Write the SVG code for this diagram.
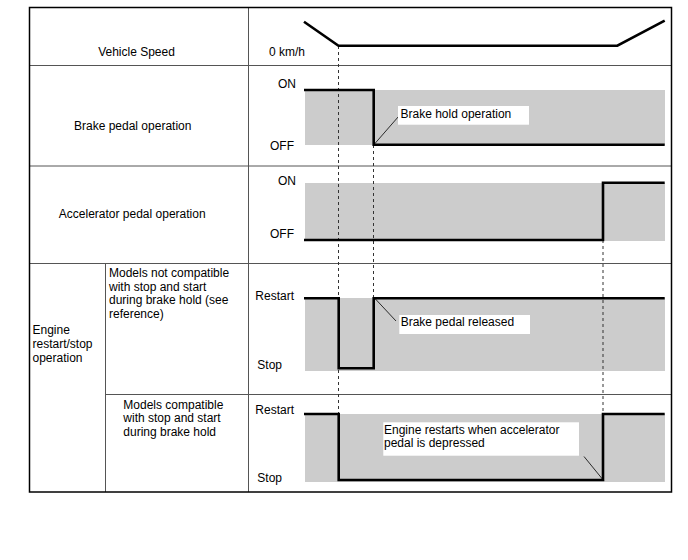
<svg xmlns="http://www.w3.org/2000/svg" width="688" height="560" viewBox="0 0 688 560">
<style>
text{font-family:"Liberation Sans",Arial,sans-serif;font-size:12px;fill:#000}
.grid{stroke:#555;stroke-width:1;fill:none}
.frame{stroke:#000;stroke-width:1.5;fill:none}
.band{fill:#cccccc}
.sig{stroke:#000;stroke-width:2.6;fill:none;stroke-linejoin:miter}
.dash{stroke:#333;stroke-width:1;stroke-dasharray:3,3;fill:none}
.lead{stroke:#000;stroke-width:0.8;fill:none}
.box{fill:#fff}
.mid{text-anchor:middle}
.end{text-anchor:end}
</style>
<rect width="688" height="560" fill="#fff"/>
<g id="table">
<line class="grid" x1="248.5" y1="7.5" x2="248.5" y2="492"/>
<line class="grid" x1="105.5" y1="263.5" x2="105.5" y2="492"/>
<line class="grid" x1="29" y1="65.5" x2="672" y2="65.5"/>
<line class="grid" x1="29" y1="166" x2="672" y2="166"/>
<line class="grid" x1="29" y1="263.5" x2="672" y2="263.5"/>
<line class="grid" x1="105.5" y1="394.5" x2="672" y2="394.5"/>
<rect class="frame" x="29.5" y="7.5" width="642" height="484.5"/>
</g>
<g id="bands">
<rect class="band" x="305" y="90" width="360" height="55"/>
<rect class="band" x="305" y="183" width="360" height="58"/>
<rect class="band" x="305" y="298" width="360" height="73"/>
<rect class="band" x="305" y="414" width="360" height="68"/>
</g>
<g id="connectors">
<line class="dash" x1="338.5" y1="46" x2="338.5" y2="414"/>
<line class="dash" x1="373.5" y1="145" x2="373.5" y2="298"/>
<line class="dash" x1="603" y1="240" x2="603" y2="414"/>
<line class="lead" x1="374.5" y1="144" x2="398.5" y2="116.5"/>
<line class="lead" x1="374.5" y1="298" x2="396" y2="321"/>
<line class="lead" x1="584" y1="456.5" x2="604" y2="481"/>
</g>
<g id="vehicle-speed">
<text class="mid" x="136.5" y="56">Vehicle Speed</text>
<text x="269" y="56">0 km/h</text>
<polyline class="sig" points="304,21.7 338.5,45.7 617.3,45.7 664.7,20.7"/>
</g>
<g id="brake-pedal">
<text class="mid" x="132.7" y="130">Brake pedal operation</text>
<text class="end" x="296" y="88">ON</text>
<text class="end" x="294" y="150">OFF</text>
<polyline class="sig" points="304,90 373.7,90 373.7,144.7 664.7,144.7"/>
<rect class="box" x="398" y="106" width="131" height="18.7"/>
<text x="400.5" y="117.5">Brake hold operation</text>
</g>
<g id="accelerator-pedal">
<text class="mid" x="132.2" y="218">Accelerator pedal operation</text>
<text class="end" x="296" y="185">ON</text>
<text class="end" x="294" y="238">OFF</text>
<polyline class="sig" points="304,240 603,240 603,182.7 664.7,182.7"/>
</g>
<g id="engine-label">
<text x="32.5" y="334">Engine</text>
<text x="32.5" y="348">restart/stop</text>
<text x="32.5" y="361.5">operation</text>
</g>
<g id="not-compatible">
<text x="109" y="277">Models not compatible</text>
<text x="109" y="290.5">with stop and start</text>
<text x="109" y="304">during brake hold (see</text>
<text x="109" y="317.5">reference)</text>
<text x="255.3" y="300">Restart</text>
<text x="257.3" y="368.5">Stop</text>
<polyline class="sig" points="304,298.3 338.7,298.3 338.7,368.3 373.7,368.3 373.7,298.3 664.7,298.3"/>
<rect class="box" x="399.3" y="315" width="130.7" height="19"/>
<text x="400.7" y="326">Brake pedal released</text>
</g>
<g id="compatible">
<text x="123.3" y="408.5">Models compatible</text>
<text x="123.3" y="422">with stop and start</text>
<text x="123.3" y="436">during brake hold</text>
<text x="255.3" y="414">Restart</text>
<text x="257.3" y="481.5">Stop</text>
<polyline class="sig" points="304,414 338.7,414 338.7,480 603,480 603,414 664.7,414"/>
<rect class="box" x="383.3" y="422.3" width="195.7" height="33.4"/>
<text x="384" y="433.5">Engine restarts when accelerator</text>
<text x="384" y="447">pedal is depressed</text>
</g>
</svg>
